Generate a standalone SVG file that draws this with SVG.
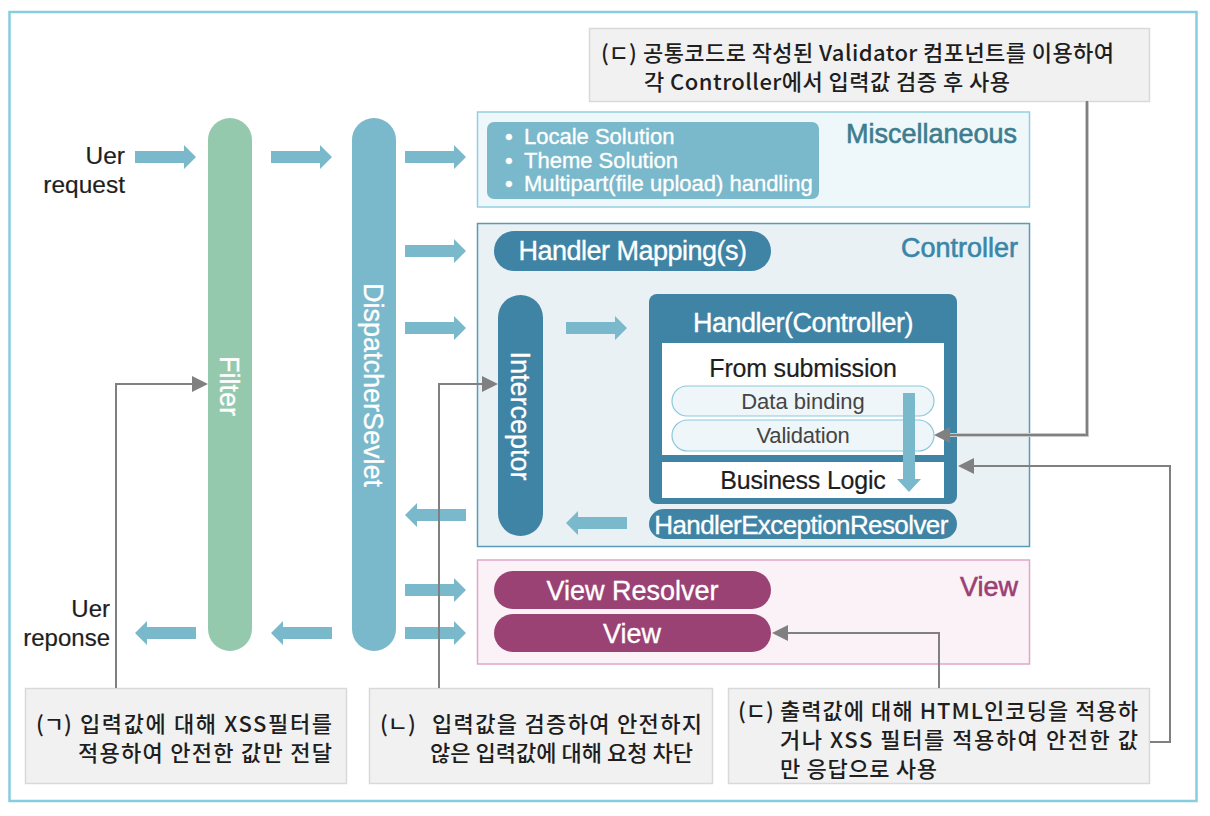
<svg xmlns="http://www.w3.org/2000/svg" width="1210" height="816" viewBox="0 0 1210 816">
<style>
.lat{font-family:'Liberation Sans',Arial,sans-serif}
.kr{font-family:'Noto Sans CJK KR',sans-serif;font-size:22px;font-weight:500;fill:#1e1e1e}
.wt{fill:#ffffff;stroke:#ffffff;stroke-width:0.35}
.dk{fill:#1e1e1e;stroke:#1e1e1e;stroke-width:0.2}
.bar{fill:#7ab8cb}
.gl{fill:none;stroke:#808080;stroke-width:2}
.note{fill:#f1f1f1;stroke:#d9d9d9;stroke-width:1.5}
.db{fill:#3f83a5}
.pur{fill:#9b4275}
.pill{fill:#eef6f9;stroke:#8cc8da;stroke-width:1.2}
.lbl{stroke-width:0.6}
</style>
<defs>
<path id="ar" d="M0,-6 H49 V-12 L61,0 L49,12 V6 H0 Z"/>
<path id="al" d="M61,-6 H12 V-12 L0,0 L12,12 V6 H61 Z"/>
<marker id="gh" markerUnits="userSpaceOnUse" markerWidth="16" markerHeight="16" refX="0" refY="8" orient="auto" viewBox="0 0 16 16"><path d="M0,0 L16,8 L0,16 Z" fill="#808080"/></marker>
</defs>
<rect width="1210" height="816" fill="#ffffff"/>
<rect id="frame" x="9.5" y="12" width="1187" height="789" fill="none" stroke="#86cde0" stroke-width="2.5"/>

<g id="user-request">
<text class="lat dk" x="125" y="164" font-size="24.5" text-anchor="end">Uer</text>
<text class="lat dk" x="125" y="193" font-size="24.5" text-anchor="end">request</text>
</g>
<g id="user-response">
<text class="lat dk" x="110" y="617" font-size="24" text-anchor="end">Uer</text>
<text class="lat dk" x="110" y="646" font-size="24" text-anchor="end">reponse</text>
</g>

<g id="filter">
<rect x="208" y="118" width="44" height="533" rx="22" fill="#95c9ae"/>
<text class="lat wt" transform="translate(230,386) rotate(90)" x="0" y="10" font-size="27" text-anchor="middle">Filter</text>
</g>
<g id="dispatcher">
<rect x="352" y="118" width="44" height="533" rx="22" fill="#7ab8cb"/>
<text class="lat wt" transform="translate(374,385) rotate(90)" x="0" y="10" font-size="27" text-anchor="middle">DispatcherSevlet</text>
</g>

<g id="misc">
<rect x="477.5" y="112" width="552" height="95" fill="#eef7fa" stroke="#94cfdf" stroke-width="1.5"/>
<rect x="487" y="122" width="332" height="77" rx="7" fill="#7ab8cb"/>
<text class="lat wt" font-size="22" y="144"><tspan x="505">•</tspan><tspan x="524">Locale Solution</tspan></text>
<text class="lat wt" font-size="22" y="168"><tspan x="505">•</tspan><tspan x="524">Theme Solution</tspan></text>
<text class="lat wt" font-size="22" y="191"><tspan x="505">•</tspan><tspan x="524">Multipart(file upload) handling</tspan></text>
<text class="lat lbl" x="1017" y="143" font-size="27" text-anchor="end" fill="#3d7d8f" stroke="#3d7d8f">Miscellaneous</text>
</g>

<g id="controller">
<rect x="477.5" y="223.5" width="552" height="323" fill="#e9f1f5" stroke="#5a9bb8" stroke-width="1.5"/>
<text class="lat lbl" x="1018" y="257" font-size="27" text-anchor="end" fill="#3a86a8" stroke="#3a86a8">Controller</text>
</g>

<g id="handler-mapping">
<rect x="494" y="231" width="277" height="40" rx="20" class="db"/>
<text class="lat wt" x="632.5" y="260" font-size="27" letter-spacing="-0.5" text-anchor="middle">Handler Mapping(s)</text>
</g>

<g id="interceptor">
<rect x="498" y="295" width="45" height="241" rx="22.5" class="db"/>
<text class="lat wt" transform="translate(521,416) rotate(90)" x="0" y="10" font-size="27" text-anchor="middle">Interceptor</text>
</g>

<g id="handler">
<rect x="649" y="294" width="308" height="210" rx="8" class="db"/>
<text class="lat wt" x="803" y="331.5" font-size="27" letter-spacing="-0.5" text-anchor="middle">Handler(Controller)</text>
<rect x="662" y="343" width="282" height="112" fill="#ffffff"/>
<text class="lat dk" x="803" y="377" font-size="25" letter-spacing="-0.2" text-anchor="middle">From submission</text>
<rect x="672" y="386" width="262" height="30" rx="15" class="pill"/>
<text class="lat" x="803" y="409" font-size="22" text-anchor="middle" fill="#444444">Data binding</text>
<rect x="672" y="420" width="262" height="31" rx="15.5" class="pill"/>
<text class="lat" x="803" y="443" font-size="22" letter-spacing="-0.2" text-anchor="middle" fill="#444444">Validation</text>
<rect x="662" y="462" width="282" height="36" fill="#ffffff"/>
<text class="lat dk" x="803" y="489" font-size="25" letter-spacing="-0.2" text-anchor="middle">Business Logic</text>
<path class="bar" d="M903,393 H915 V479 H921 L909,492 L897,479 H903 Z"/>
</g>

<g id="exception-resolver">
<rect x="649" y="509" width="308" height="30" rx="15" class="db"/>
<text class="lat wt" x="801" y="534" font-size="26" letter-spacing="-0.6" text-anchor="middle">HandlerExceptionResolver</text>
</g>

<g id="view-area">
<rect x="477.5" y="560" width="552" height="104" fill="#faf2f7" stroke="#e0a6cc" stroke-width="1.5"/>
<text class="lat lbl" x="1018" y="596" font-size="27" text-anchor="end" fill="#9b3f74" stroke="#9b3f74">View</text>
</g>
<g id="view-resolver">
<rect x="494" y="571" width="277" height="38" rx="19" class="pur"/>
<text class="lat wt" x="632.5" y="600" font-size="27" text-anchor="middle">View Resolver</text>
</g>
<g id="view">
<rect x="494" y="614" width="277" height="38" rx="19" class="pur"/>
<text class="lat wt" x="632" y="643" font-size="27" text-anchor="middle">View</text>
</g>

<g id="note-top">
<rect x="589.5" y="28.5" width="560" height="73" class="note"/>
<text class="kr" y="61"><tspan x="601">(ㄷ)</tspan><tspan x="643" textLength="471" lengthAdjust="spacing">공통코드로 작성된 Validator 컴포넌트를 이용하여</tspan></text>
<text class="kr" y="90"><tspan x="644" textLength="366" lengthAdjust="spacing">각 Controller에서 입력값 검증 후 사용</tspan></text>
</g>
<g id="note-a">
<rect x="25.5" y="688.5" width="321" height="95" class="note"/>
<text class="kr" y="732"><tspan x="36">(ㄱ)</tspan><tspan x="80" textLength="252" lengthAdjust="spacing">입력값에 대해 XSS필터를</tspan></text>
<text class="kr" y="761"><tspan x="78" textLength="254" lengthAdjust="spacing">적용하여 안전한 값만 전달</tspan></text>
</g>
<g id="note-b">
<rect x="369.5" y="688.5" width="343" height="95" class="note"/>
<text class="kr" y="732"><tspan x="380">(ㄴ)</tspan><tspan x="432" textLength="270" lengthAdjust="spacing">입력값을 검증하여 안전하지</tspan></text>
<text class="kr" y="761"><tspan x="430" textLength="263" lengthAdjust="spacing">않은 입력값에 대해 요청 차단</tspan></text>
</g>
<g id="note-c">
<rect x="728.5" y="688.5" width="421" height="95" class="note"/>
<text class="kr" y="719"><tspan x="738">(ㄷ)</tspan><tspan x="780" textLength="358" lengthAdjust="spacing">출력값에 대해 HTML인코딩을 적용하</tspan></text>
<text class="kr" y="748"><tspan x="780" textLength="358" lengthAdjust="spacing">거나 XSS 필터를 적용하여 안전한 값</tspan></text>
<text class="kr" y="777"><tspan x="780" textLength="157" lengthAdjust="spacing">만 응답으로 사용</tspan></text>
</g>

<g id="connectors">
<use href="#ar" class="bar" x="135" y="157"/>
<use href="#ar" class="bar" x="271" y="157"/>
<use href="#ar" class="bar" x="405" y="157"/>
<use href="#ar" class="bar" x="405" y="251"/>
<use href="#ar" class="bar" x="405" y="328"/>
<use href="#ar" class="bar" x="566" y="328"/>
<use href="#al" class="bar" x="405" y="515"/>
<use href="#al" class="bar" x="566" y="523"/>
<use href="#ar" class="bar" x="405" y="590"/>
<use href="#ar" class="bar" x="405" y="633"/>
<use href="#al" class="bar" x="271" y="633"/>
<use href="#al" class="bar" x="135" y="633"/>
<path class="gl" d="M116,688 V384 H192" marker-end="url(#gh)"/>
<path class="gl" d="M439,688 V384 H482" marker-end="url(#gh)"/>
<path d="M1087,101 V435 H950" fill="none" stroke="#c8c8c8" stroke-width="4"/>
<path class="gl" d="M1087,101 V435 H950" marker-end="url(#gh)"/>
<path class="gl" d="M1150,742 H1170 V466 H974" marker-end="url(#gh)"/>
<path class="gl" d="M939,688 V633 H788" marker-end="url(#gh)"/>
</g>
</svg>
